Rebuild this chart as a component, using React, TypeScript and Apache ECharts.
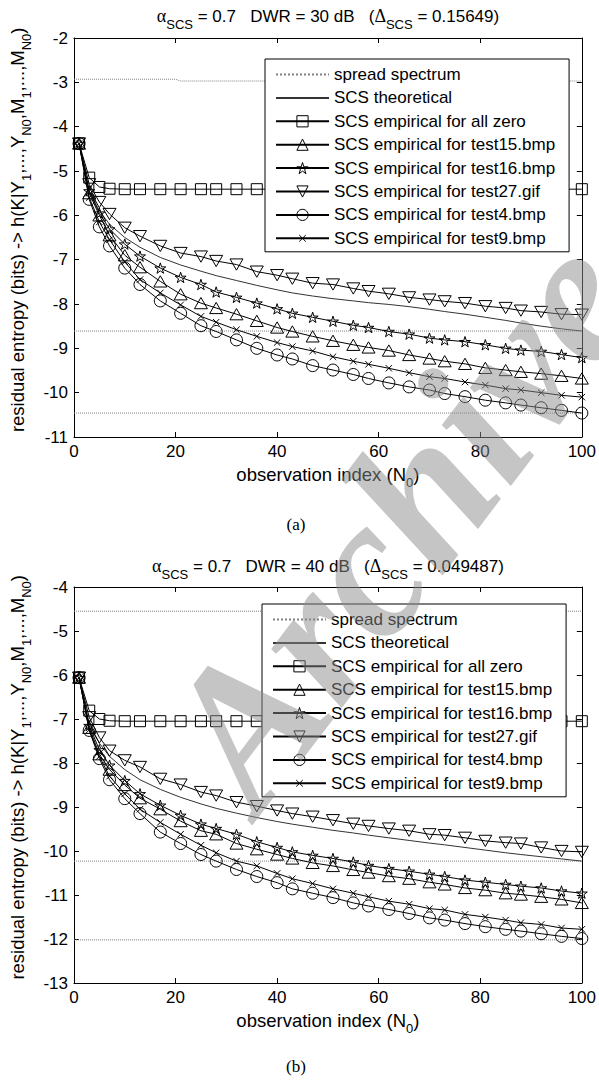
import React, { useEffect, useRef } from "react";
import * as echarts from "echarts";

// observation indices where the empirical/theoretical values were computed
const nGrid = [1, 3, 5, 7, 10, 13, 17, 21, 25, 28, 32, 36, 40, 43, 47, 51, 55, 58, 62, 66, 70, 73, 77, 81, 85, 88, 92, 96, 100];

// ---------- panel (a): DWR = 30 dB ----------
const spreadA_N = [0, 20, 21, 100];
const spreadA = [-2.93, -2.93, -2.97, -2.97];
const refA_N = [0, 100];
const refA1 = [-8.61, -8.61];
const refA2 = [-10.46, -10.46];
const theoA = [-4.38, -5.45, -5.9, -6.2, -6.5, -6.72, -6.95, -7.12, -7.26, -7.36, -7.47, -7.58, -7.68, -7.75, -7.82, -7.88, -7.93, -7.97, -8.01, -8.06, -8.12, -8.17, -8.23, -8.3, -8.37, -8.43, -8.5, -8.56, -8.61];
const zeroA = [-4.38, -5.15, -5.36, -5.4, -5.41, -5.41, -5.41, -5.41, -5.41, -5.41, -5.41, -5.41, -5.41, -5.41, -5.41, -5.41, -5.41, -5.41, -5.41, -5.41, -5.41, -5.41, -5.41, -5.41, -5.41, -5.41, -5.41, -5.41, -5.41];
const t15A = [-4.38, -5.5, -6.0, -6.45, -6.9, -7.17, -7.49, -7.78, -7.98, -8.09, -8.23, -8.38, -8.53, -8.62, -8.73, -8.83, -8.92, -8.98, -9.05, -9.15, -9.23, -9.29, -9.35, -9.44, -9.49, -9.53, -9.57, -9.62, -9.68];
const t16A = [-4.38, -5.45, -5.95, -6.31, -6.65, -6.92, -7.19, -7.4, -7.56, -7.73, -7.85, -7.98, -8.11, -8.21, -8.3, -8.39, -8.48, -8.53, -8.62, -8.68, -8.77, -8.81, -8.85, -8.92, -9.0, -9.04, -9.07, -9.14, -9.21];
const t27A = [-4.38, -5.3, -5.7, -5.97, -6.28, -6.47, -6.69, -6.85, -6.93, -7.03, -7.11, -7.27, -7.35, -7.43, -7.53, -7.56, -7.65, -7.71, -7.77, -7.85, -7.9, -7.94, -7.98, -8.05, -8.09, -8.15, -8.18, -8.23, -8.24];
const t4A = [-4.38, -5.64, -6.26, -6.69, -7.19, -7.56, -7.93, -8.21, -8.49, -8.62, -8.81, -9.0, -9.15, -9.24, -9.39, -9.49, -9.59, -9.68, -9.78, -9.87, -9.94, -10.02, -10.09, -10.17, -10.23, -10.28, -10.34, -10.4, -10.46];
const t9A = [-4.38, -5.6, -6.15, -6.55, -7.05, -7.45, -7.75, -8.02, -8.28, -8.41, -8.58, -8.73, -8.87, -8.96, -9.06, -9.19, -9.29, -9.36, -9.45, -9.55, -9.64, -9.68, -9.76, -9.83, -9.91, -9.94, -10.0, -10.06, -10.1];

// ---------- panel (b): DWR = 40 dB ----------
const spreadB_N = [0, 100];
const spreadB = [-4.55, -4.55];
const refB_N = [0, 100];
const refB1 = [-10.23, -10.23];
const refB2 = [-12.02, -12.02];
const theoB = [-6.06, -7.1, -7.55, -7.85, -8.15, -8.38, -8.6, -8.78, -8.93, -9.03, -9.14, -9.24, -9.33, -9.39, -9.46, -9.53, -9.59, -9.64, -9.7, -9.76, -9.82, -9.86, -9.92, -9.98, -10.04, -10.08, -10.13, -10.18, -10.23];
const zeroB = [-6.06, -6.81, -7.0, -7.04, -7.05, -7.05, -7.05, -7.05, -7.05, -7.05, -7.05, -7.05, -7.05, -7.05, -7.05, -7.05, -7.05, -7.05, -7.05, -7.05, -7.05, -7.05, -7.05, -7.05, -7.05, -7.05, -7.05, -7.05, -7.05];
const t15B = [-6.06, -7.2, -7.8, -8.15, -8.5, -8.8, -9.05, -9.32, -9.54, -9.62, -9.83, -9.96, -10.08, -10.17, -10.27, -10.34, -10.43, -10.49, -10.57, -10.63, -10.71, -10.76, -10.84, -10.89, -10.96, -10.99, -11.04, -11.1, -11.18];
const t16B = [-6.06, -7.15, -7.7, -8.05, -8.4, -8.7, -8.96, -9.19, -9.39, -9.49, -9.62, -9.79, -9.92, -10.02, -10.1, -10.17, -10.25, -10.33, -10.4, -10.46, -10.53, -10.58, -10.66, -10.71, -10.76, -10.8, -10.84, -10.91, -10.96];
const t27B = [-6.06, -6.96, -7.42, -7.72, -7.94, -8.09, -8.36, -8.49, -8.66, -8.74, -8.89, -8.98, -9.08, -9.15, -9.22, -9.3, -9.38, -9.43, -9.49, -9.54, -9.62, -9.64, -9.7, -9.77, -9.81, -9.83, -9.92, -10.0, -10.02];
const t4B = [-6.06, -7.26, -7.9, -8.38, -8.81, -9.15, -9.57, -9.83, -10.08, -10.23, -10.42, -10.58, -10.72, -10.86, -10.96, -11.06, -11.18, -11.25, -11.33, -11.42, -11.52, -11.57, -11.65, -11.72, -11.78, -11.82, -11.88, -11.94, -11.99];
const t9B = [-6.06, -7.25, -7.85, -8.3, -8.7, -9.05, -9.35, -9.62, -9.87, -10.04, -10.23, -10.34, -10.51, -10.63, -10.74, -10.86, -10.96, -11.04, -11.14, -11.21, -11.31, -11.34, -11.44, -11.5, -11.57, -11.63, -11.67, -11.75, -11.78];

const seriesNames = [
  "spread spectrum",
  "SCS theoretical",
  "SCS empirical for all zero",
  "SCS empirical for test15.bmp",
  "SCS empirical for test16.bmp",
  "SCS empirical for test27.gif",
  "SCS empirical for test4.bmp",
  "SCS empirical for test9.bmp",
];
const yTicksA = { min: -11, max: -2 };
const yTicksB = { min: -13, max: -4 };
const xTicks = { min: 0, max: 100, interval: 20 };

const FONT = '"Liberation Sans", Arial, sans-serif';
const SERIF = '"Liberation Serif", "Times New Roman", serif';

const STAR = "path://M5,0 L6.1,3.5 L9.8,3.5 L6.8,5.7 L7.9,9.1 L5,7 L2.1,9.1 L3.2,5.7 L0.2,3.5 L3.9,3.5 Z";
const CROSS = "path://M0,0 M12,12 M2.5,2.5 L9.5,9.5 M9.5,2.5 L2.5,9.5";
const TRI_UP = "path://M5,0 L10,8.66 L0,8.66 Z";
const TRI_DOWN = "path://M0,0 L10,0 L5,8.66 Z";

const HOLLOW = { color: "rgba(255,255,255,0)", borderColor: "#000", borderWidth: 1 };
const HIDDEN = { color: "rgba(0,0,0,0)", borderColor: "rgba(0,0,0,0)", borderWidth: 0 };

function pairs(xs: number[], ys: number[]) {
  return xs.map((x, i) => [x, ys[i]]);
}

function mkSeries(name: string, xs: number[], ys: number[], panel: number, kind: string) {
  const base: any = {
    type: "line",
    name,
    xAxisIndex: panel * 2,
    yAxisIndex: panel * 2,
    data: pairs(xs, ys),
    silent: true,
    emphasis: { disabled: true },
    clip: true,
    symbolKeepAspect: true,
    itemStyle: { ...HOLLOW },
    lineStyle: { color: "#000", width: 1, type: "solid" },
    z: 3,
  };
  if (kind === "spread") {
    base.symbol = "circle";
    base.showSymbol = false;
    base.lineStyle = { color: "#808080", width: 1, type: "dotted" };
    base.itemStyle = { ...HIDDEN };
    base.z = 2;
  } else if (kind === "theo") {
    base.symbol = "circle";
    base.showSymbol = false;
    base.lineStyle = { color: "#333", width: 1, type: "solid" };
    base.itemStyle = { ...HIDDEN };
  } else if (kind === "square") {
    base.symbol = "rect";
    base.symbolSize = 11;
  } else if (kind === "tri") {
    base.symbol = TRI_UP;
    base.symbolSize = 13;
  } else if (kind === "star") {
    base.symbol = STAR;
    base.symbolSize = 11;
  } else if (kind === "tridown") {
    base.symbol = TRI_DOWN;
    base.symbolSize = 13;
  } else if (kind === "circle") {
    base.symbol = "circle";
    base.symbolSize = 12;
  } else if (kind === "cross") {
    base.symbol = CROSS;
    base.symbolSize = 11;
  }
  return base;
}

export default function App() {
  const ref = useRef<HTMLDivElement>(null);

  useEffect(() => {
    if (!ref.current) return;
    const chart = echarts.init(ref.current, null, { renderer: "svg" });

    const richName = {
      n: { fontSize: 18.5, lineHeight: 30, fontFamily: FONT, color: "#000", fontWeight: "normal" },
      s: { fontSize: 13, lineHeight: 12, verticalAlign: "bottom", fontFamily: FONT, color: "#000", fontWeight: "normal" },
    };
    const yName =
      "{n|   residual entropy (bits) -> h(K|Y}{s|1}{n|,...,Y}{s|N0}{n|,M}{s|1}{n|,...,M}{s|N0}{n|)}";
    const xName = "{n|observation index (N}{s|0}{n|)}";

    const grids = [
      { left: 72, top: 38, width: 515, height: 399 },
      { left: 71, top: 587, width: 516, height: 396 },
    ];

    const mkX = (gi: number, bottom: boolean) => ({
      gridIndex: gi,
      type: "value",
      min: xTicks.min,
      max: xTicks.max,
      interval: xTicks.interval,
      position: bottom ? "bottom" : "top",
      axisLine: { show: true, onZero: false, lineStyle: { color: "#000", width: 1 } },
      axisTick: { show: true, inside: true, length: 5, lineStyle: { color: "#000", width: 1 } },
      axisLabel: bottom
        ? { show: true, fontSize: 17, fontFamily: FONT, color: "#000", margin: 6 }
        : { show: false },
      splitLine: { show: false },
      name: bottom ? xName : "",
      nameLocation: "middle",
      nameGap: 22,
      nameTextStyle: { rich: richName, fontSize: 18.5, fontFamily: FONT, color: "#000" },
    });
    const mkY = (gi: number, left: boolean, r: { min: number; max: number }) => ({
      gridIndex: gi,
      type: "value",
      min: r.min,
      max: r.max,
      interval: 1,
      position: left ? "left" : "right",
      axisLine: { show: true, onZero: false, lineStyle: { color: "#000", width: 1 } },
      axisTick: { show: true, inside: true, length: 5, lineStyle: { color: "#000", width: 1 } },
      axisLabel: left
        ? { show: true, fontSize: 17, fontFamily: FONT, color: "#000", margin: 6 }
        : { show: false },
      splitLine: { show: false },
      name: left ? yName : "",
      nameLocation: "middle",
      nameRotate: 90,
      nameGap: 38,
      nameTextStyle: { rich: richName, fontSize: 18.5, fontFamily: FONT, color: "#000" },
    });

    const series: any[] = [
      // panel (a)
      mkSeries("spread spectrum", spreadA_N, spreadA, 0, "spread"),
      mkSeries("ssA1", refA_N, refA1, 0, "spread"),
      mkSeries("ssA2", refA_N, refA2, 0, "spread"),
      mkSeries(seriesNames[1], nGrid, theoA, 0, "theo"),
      mkSeries(seriesNames[2], nGrid, zeroA, 0, "square"),
      mkSeries(seriesNames[3], nGrid, t15A, 0, "tri"),
      mkSeries(seriesNames[4], nGrid, t16A, 0, "star"),
      mkSeries(seriesNames[5], nGrid, t27A, 0, "tridown"),
      mkSeries(seriesNames[6], nGrid, t4A, 0, "circle"),
      mkSeries(seriesNames[7], nGrid, t9A, 0, "cross"),
      // panel (b)
      mkSeries("spread spectrum", spreadB_N, spreadB, 1, "spread"),
      mkSeries("ssB1", refB_N, refB1, 1, "spread"),
      mkSeries("ssB2", refB_N, refB2, 1, "spread"),
      mkSeries(seriesNames[1], nGrid, theoB, 1, "theo"),
      mkSeries(seriesNames[2], nGrid, zeroB, 1, "square"),
      mkSeries(seriesNames[3], nGrid, t15B, 1, "tri"),
      mkSeries(seriesNames[4], nGrid, t16B, 1, "star"),
      mkSeries(seriesNames[5], nGrid, t27B, 1, "tridown"),
      mkSeries(seriesNames[6], nGrid, t4B, 1, "circle"),
      mkSeries(seriesNames[7], nGrid, t9B, 1, "cross"),
    ];

    const legendData = seriesNames.map((name, i) => ({
      name,
      itemStyle: i < 2 ? { ...HIDDEN } : { ...HOLLOW },
    }));

    const mkLegend = (left: number, top: number) => ({
      data: legendData,
      orient: "vertical",
      left,
      top,
      itemWidth: 53,
      itemHeight: 14,
      itemGap: 6.4,
      padding: [7, 14, 5, 10],
      backgroundColor: "#fff",
      borderColor: "#000",
      borderWidth: 1,
      borderRadius: 0,
      selectedMode: false,
      textStyle: { fontSize: 17, fontFamily: FONT, color: "#000" },
      z: 10,
    });

    const titleRich = {
      n: { fontSize: 17, lineHeight: 30, fontFamily: FONT, color: "#000", fontWeight: "normal" },
      s: { fontSize: 13, lineHeight: 12, verticalAlign: "bottom", fontFamily: FONT, color: "#000", fontWeight: "normal" },
      g: { fontSize: 18, lineHeight: 30, fontFamily: SERIF, color: "#000", fontWeight: "normal" },
    };

    chart.setOption({
      animation: false,
      backgroundColor: "#fff",
      title: [
        {
          text: "{g|α}{s|SCS}{n| = 0.7   DWR = 30 dB   (}{g|Δ}{s|SCS}{n| = 0.15649)}",
          left: 328,
          top: 1,
          textAlign: "center",
          padding: 0,
          textStyle: { rich: titleRich, fontSize: 17, fontWeight: "normal", fontFamily: FONT, color: "#000" },
        },
        {
          text: "{g|α}{s|SCS}{n| = 0.7   DWR = 40 dB   (}{g|Δ}{s|SCS}{n| = 0.049487)}",
          left: 328,
          top: 551,
          textAlign: "center",
          padding: 0,
          textStyle: { rich: titleRich, fontSize: 17, fontWeight: "normal", fontFamily: FONT, color: "#000" },
        },
      ],
      grid: grids,
      xAxis: [mkX(0, true), mkX(0, false), mkX(1, true), mkX(1, false)],
      yAxis: [mkY(0, true, yTicksA), mkY(0, false, yTicksA), mkY(1, true, yTicksB), mkY(1, false, yTicksB)],
      legend: [mkLegend(265, 59), mkLegend(262, 604)],
      series,
      graphic: [
        {
          type: "text",
          x: 296,
          y: 524,
          style: { text: "(a)", fontSize: 17, fontFamily: SERIF, fill: "#000", align: "center", verticalAlign: "middle" },
          silent: true,
        },
        {
          type: "text",
          x: 296,
          y: 1066,
          style: { text: "(b)", fontSize: 17, fontFamily: SERIF, fill: "#000", align: "center", verticalAlign: "middle" },
          silent: true,
        },
        {
          type: "text",
          x: 400,
          y: 520,
          rotation: 0.92,
          z: 100,
          silent: true,
          style: {
            text: "Archive",
            fontSize: 200,
            fontFamily: SERIF,
            fontStyle: "italic",
            fontWeight: "bold",
            fill: "rgba(140,140,140,0.5)",
            align: "center",
            verticalAlign: "middle",
          },
        },
      ],
    });

    return () => chart.dispose();
  }, []);

  return (
    <div
      ref={ref}
      style={{ position: "absolute", left: 0, top: 0, width: 599, height: 1080, background: "#fff" }}
    />
  );
}
